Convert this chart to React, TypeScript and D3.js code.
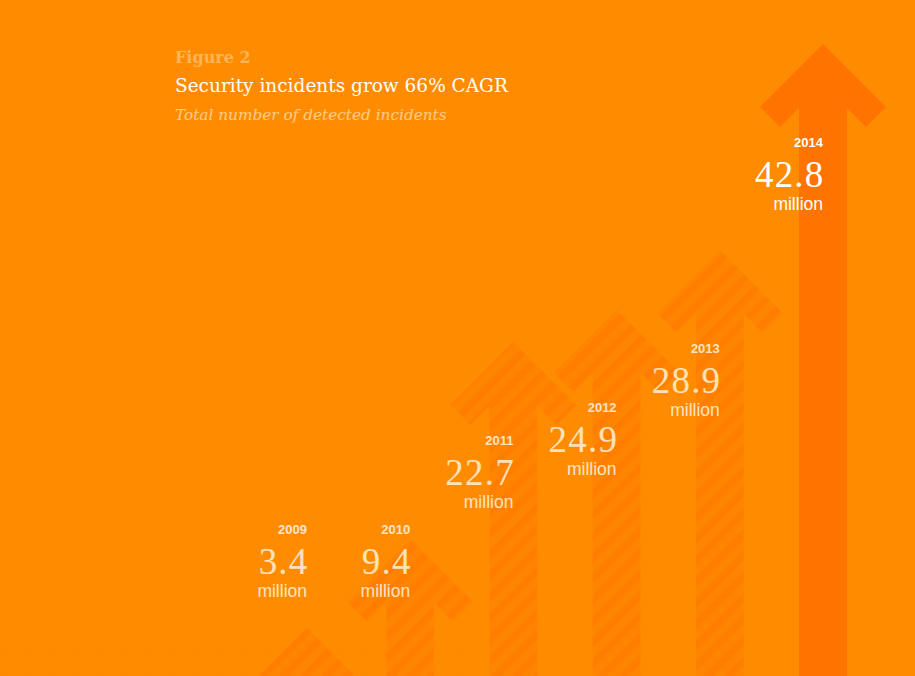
import React, { useEffect } from 'react';
import * as d3 from 'd3';

const years = ['2009', '2010', '2011', '2012', '2013', '2014'];
const values = [3.4, 9.4, 22.7, 24.9, 28.9, 42.8];
const valueLabels = ['3.4', '9.4', '22.7', '24.9', '28.9', '42.8'];
const unitLabel = 'million';
const figureLabel = 'Figure 2';
const titleText = 'Security incidents grow 66% CAGR';
const subtitleText = 'Total number of detected incidents';

const W = 915;
const H = 676;

export default function App() {
  useEffect(() => {
    document.body.style.margin = '0';
    document.body.style.background = '#FF8C00';
  }, []);

  const x = d3.scaleBand<string>().domain(years).range([255.4, 874.6]).padding(0);
  const y = d3.scaleLinear().domain([0, 42.8]).range([678.4, 44]);

  const headHalf = 63;
  const wing = 20;
  const shaftHalf = 24;

  const arrowPath = (cx: number, ty: number) => {
    const p = d3.path();
    p.moveTo(cx, ty);
    p.lineTo(cx + headHalf, ty + headHalf);
    p.lineTo(cx + headHalf - wing, ty + headHalf + wing);
    const innerY = ty + headHalf + wing - (headHalf - wing - shaftHalf);
    p.lineTo(cx + shaftHalf, innerY);
    p.lineTo(cx + shaftHalf, H + 10);
    p.lineTo(cx - shaftHalf, H + 10);
    p.lineTo(cx - shaftHalf, innerY);
    p.lineTo(cx - headHalf + wing, ty + headHalf + wing);
    p.lineTo(cx - headHalf, ty + headHalf);
    p.closePath();
    return p.toString();
  };

  const sans = '"Liberation Sans", Arial, sans-serif';
  const serif = '"Liberation Serif", "Times New Roman", serif';
  const titleSerif = '"DejaVu Serif", Georgia, serif';

  return (
    <svg width={W} height={H} style={{ position: 'fixed', left: 0, top: 0, display: 'block' }}>
      <defs>
        <pattern id="stripes" patternUnits="userSpaceOnUse" width="15" height="15" patternTransform="rotate(45)">
          <rect width="15" height="15" fill="#FF8500" />
          <rect width="7" height="15" fill="#FF7E00" />
        </pattern>
        <pattern id="grid" patternUnits="userSpaceOnUse" width="24" height="24">
          <path d="M24 0 L0 0 0 24" fill="none" stroke="#FF8700" strokeWidth="1" />
        </pattern>
        <linearGradient id="gridFade" x1="0" y1="0" x2="0" y2="1">
          <stop offset="0" stopColor="#fff" stopOpacity="0" />
          <stop offset="1" stopColor="#fff" stopOpacity="1" />
        </linearGradient>
        <mask id="gridMask">
          <rect x="0" y="560" width="480" height="116" fill="url(#gridFade)" />
        </mask>
      </defs>
      <rect width={W} height={H} fill="#FF8C00" />
      <rect x="0" y="560" width="480" height="116" fill="url(#grid)" mask="url(#gridMask)" />

      {years.map((yr, i) => {
        const cx = (x(yr) as number) + x.bandwidth() / 2;
        const ty = y(values[i]);
        const last = i === years.length - 1;
        return (
          <path key={'a' + yr} d={arrowPath(cx, ty)} fill={last ? '#FF7300' : 'url(#stripes)'} />
        );
      })}

      {years.map((yr, i) => {
        const cx = (x(yr) as number) + x.bandwidth() / 2;
        const ty = y(values[i]);
        const last = i === years.length - 1;
        const base = Math.min(ty + 103, 534);
        const yearColor = last ? '#FFFFFF' : '#FFE4C2';
        const numColor = last ? '#FFFFFF' : '#FFE2BA';
        return (
          <g key={'l' + yr} textAnchor="end">
            <text x={cx} y={base} fontFamily={sans} fontWeight="bold" fontSize="13" fill={yearColor}>
              {yr}
            </text>
            <text x={cx + 1.5} y={base + 40} fontFamily={serif} fontSize="37" fill={numColor} letterSpacing="1.2">
              {valueLabels[i]}
            </text>
            <text x={cx} y={base + 63} fontFamily={sans} fontSize="17.5" fill={yearColor}>
              {unitLabel}
            </text>
          </g>
        );
      })}

      <text x="175" y="63" fontFamily={titleSerif} fontSize="16" fontWeight="bold" fill="#FFB45C">
        {figureLabel}
      </text>
      <text x="175" y="92" fontFamily={titleSerif} fontSize="18.5" fill="#FFFFFF">
        {titleText}
      </text>
      <text x="175" y="120" fontFamily={titleSerif} fontSize="15.3" fontStyle="italic" fill="#FFCC88">
        {subtitleText}
      </text>
    </svg>
  );
}
